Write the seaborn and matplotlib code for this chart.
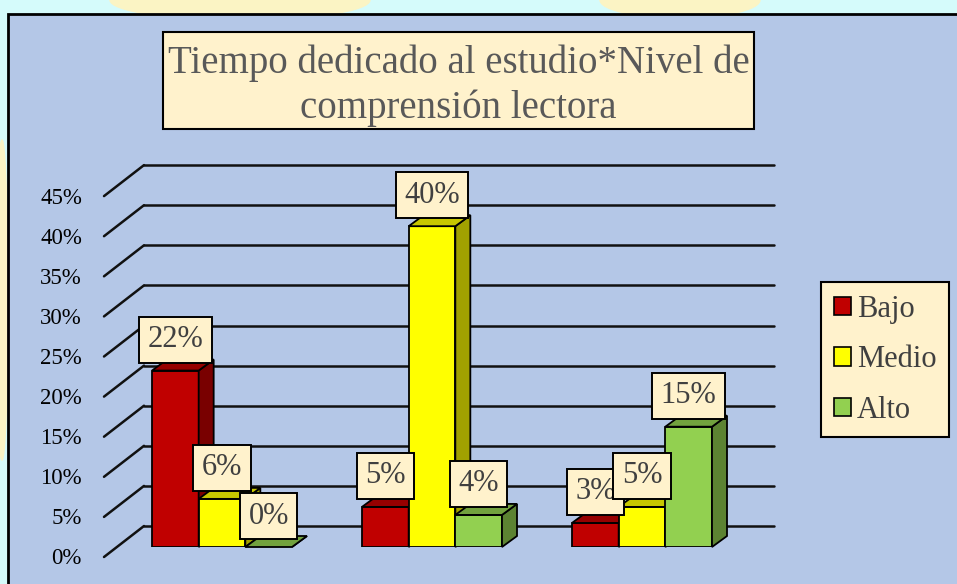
import numpy as np
import pandas as pd
import matplotlib.pyplot as plt
import seaborn as sns
from matplotlib.patches import Polygon, Rectangle, Patch, Ellipse
import matplotlib.colors as mcolors

# Data
tiempo = ["Grupo 1", "Grupo 2", "Grupo 3"]
niveles = ["Bajo", "Medio", "Alto"]
bajo = [22, 5, 3]
medio = [6, 40, 5]
alto = [0, 4, 15]
colores = ["#c00000", "#ffff00", "#92d050"]
ticks = [0, 5, 10, 15, 20, 25, 30, 35, 40, 45]

df = pd.DataFrame({
    "tiempo": tiempo * 3,
    "nivel": np.repeat(niveles, 3),
    "pct": bajo + medio + alto,
})

sns.set_style("white")
plt.rcParams["font.family"] = ["Liberation Serif", "DejaVu Serif"]

W, H = 957, 584
fig = plt.figure(figsize=(W / 100, H / 100), dpi=100)
fig.patch.set_facecolor("#d5fbfb")


def fx(px):
    return px / W


def fy(py):
    return 1 - py / H


# faint yellow watermark behind the chart frame
for cx, cy, w, h in [(240, 0, 260, 40), (680, 0, 160, 36), (2, 300, 12, 320)]:
    fig.add_artist(Ellipse((fx(cx), fy(cy)), w / W, h / H, transform=fig.transFigure,
                           color="#fbf4c4", zorder=-2))

# chart frame
fig.add_artist(Rectangle((fx(8), -0.1), 1.0, fy(14) + 0.1, transform=fig.transFigure,
                         fc="#b4c7e7", ec="black", lw=2, zorder=-1))

# axes = front plane of the bars
ax = fig.add_axes([fx(117), fy(547), 630 / W, 401 / H])
ax.set_facecolor("none")

kx = 3 / 630   # data units per pixel (x)
ky = 50 / 401  # data units per pixel (y)

sns.barplot(data=df, x="tiempo", y="pct", hue="nivel", palette=colores, width=2 / 3,
            edgecolor="black", linewidth=1.3, ax=ax, legend=False, saturation=1)

ax.set_xlim(-0.5, 2.5)
ax.set_ylim(0, 50)
ax.axis("off")

# back wall grid, floor diagonals and tick labels
for t in ticks:
    ax.plot([-0.5 + 27 * kx, 2.5 + 27 * kx], [t + 21 * ky] * 2, color="#111111", lw=1.8,
            zorder=1, clip_on=False)
    ax.plot([-0.5 - 13 * kx, -0.5 + 27 * kx], [t - 10 * ky, t + 21 * ky], color="#111111",
            lw=1.8, zorder=1, clip_on=False)
    ax.text(-0.5 - 35 * kx, t - 12 * ky, f"{t}%", ha="right", va="center", fontsize=16.5,
            color="black", clip_on=False)

# 3D faces for every bar
dx, dy = 15 * kx, 11 * ky
bars = sorted(ax.patches, key=lambda p: p.get_x())
for k, p in enumerate(bars):
    x, w, h = p.get_x(), p.get_width(), p.get_height()
    c = np.array(mcolors.to_rgb(p.get_facecolor()))
    p.set_zorder(3 + 3 * k)
    side = Polygon([(x + w, 0), (x + w + dx, dy), (x + w + dx, h + dy), (x + w, h)],
                   closed=True, fc=c * 0.63, ec="black", lw=1.3, zorder=4 + 3 * k, clip_on=False)
    top = Polygon([(x, h), (x + dx, h + dy), (x + w + dx, h + dy), (x + w, h)],
                  closed=True, fc=c * 0.78, ec="black", lw=1.3, zorder=4 + 3 * k, clip_on=False)
    ax.add_patch(side)
    ax.add_patch(top)

# value labels (in hue order so later ones sit on top)
for p in ax.containers:
    for r in p:
        ax.annotate(f"{r.get_height():.0f}%", xy=(r.get_x() + r.get_width() / 2, r.get_height()),
                    xytext=(0, 31), textcoords="offset pixels", ha="center", va="center",
                    fontsize=22, color="#404040", zorder=100, annotation_clip=False,
                    bbox=dict(boxstyle="square,pad=0.28", fc="#fff2cc", ec="black", lw=1.4))

# title box
fig.add_artist(Rectangle((fx(163), fy(129)), 591 / W, 97 / H, transform=fig.transFigure,
                         fc="#fff2cc", ec="black", lw=1.5, zorder=5))
fig.text(fx(458.5), fy(86), "Tiempo dedicado al estudio*Nivel de\ncomprensión lectora",
         ha="center", va="center", fontsize=28, color="#595959", linespacing=1.26, zorder=6)

# legend
handles = [Patch(fc=c, ec="black", lw=1.2) for c in colores]
leg = fig.legend(handles, niveles, loc="upper left", bbox_to_anchor=(fx(821), fy(282)),
                 frameon=True, fancybox=False, edgecolor="black", facecolor="#fff2cc",
                 framealpha=1, fontsize=22, labelcolor="#404040", handlelength=0.55,
                 handleheight=0.55, handletextpad=0.2, labelspacing=0.7, borderpad=0.42,
                 borderaxespad=0)
leg.get_frame().set_linewidth(1.5)

fig.savefig("out.png", dpi=100)
